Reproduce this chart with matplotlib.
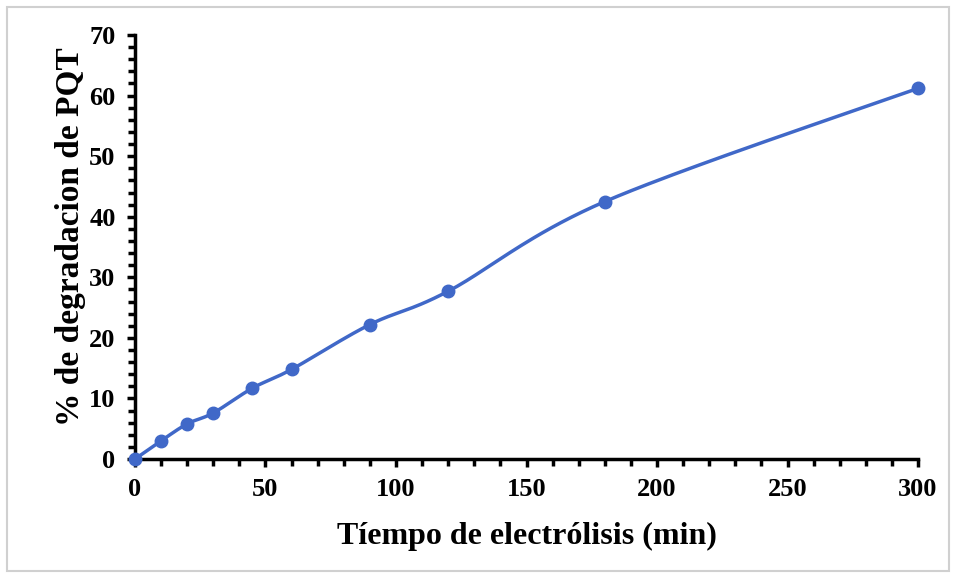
import numpy as np
import matplotlib
matplotlib.use("Agg")
import matplotlib.pyplot as plt
from matplotlib.ticker import MultipleLocator
from matplotlib.patches import Rectangle

# Data
tiempo = [0, 10, 20, 30, 45, 60, 90, 120, 180, 300]
degradacion = [0.0, 3.0, 5.8, 7.6, 11.7, 14.8, 22.2, 27.7, 42.5, 61.2]
x_label = "Tíempo de electrólisis (min)"
y_label = "% de degradacion de PQT"

plt.rcParams['font.family'] = ['Liberation Serif', 'DejaVu Serif']
plt.rcParams['font.weight'] = 'bold'

fig = plt.figure(figsize=(9.56, 5.77), dpi=100)
ax = fig.add_axes([0.1412, 0.2045, 0.8191, 0.7348])
fig.patches.append(Rectangle((0.007, 0.01), 0.986, 0.978, transform=fig.transFigure,
                             fill=False, edgecolor='#d0d0d0', linewidth=1.5))

xlim = (0, 300)
ylim = (0, 70)
ax.set_xlim(*xlim)
ax.set_ylim(*ylim)


def excel_smooth(xs, ys, n=40):
    # Bezier smoothing (Catmull-Rom style) done in normalized axis space
    px = (np.asarray(xs, float) - xlim[0]) / (xlim[1] - xlim[0]) * 0.8191 * 9.56
    py = (np.asarray(ys, float) - ylim[0]) / (ylim[1] - ylim[0]) * 0.7348 * 5.77
    P = np.column_stack([px, py])
    out = [P[0]]
    for i in range(len(P) - 1):
        p0 = P[i - 1] if i > 0 else P[i]
        p1 = P[i]
        p2 = P[i + 1]
        p3 = P[i + 2] if i + 2 < len(P) else P[i + 1]
        c1 = p1 + (p2 - p0) / 6.0
        c2 = p2 - (p3 - p1) / 6.0
        t = np.linspace(0, 1, n)[1:, None]
        seg = ((1 - t) ** 3) * p1 + 3 * ((1 - t) ** 2) * t * c1 + 3 * (1 - t) * t ** 2 * c2 + t ** 3 * p2
        out.extend(seg)
    out = np.array(out)
    sx = out[:, 0] / (0.8191 * 9.56) * (xlim[1] - xlim[0]) + xlim[0]
    sy = out[:, 1] / (0.7348 * 5.77) * (ylim[1] - ylim[0]) + ylim[0]
    return sx, sy


color = '#4068c8'
sx, sy = excel_smooth(tiempo, degradacion)
ax.plot(sx, sy, color=color, linewidth=2.5, clip_on=False, zorder=3)
ax.plot(tiempo, degradacion, 'o', color=color, markersize=9, clip_on=False, zorder=4)

for s in ['top', 'right']:
    ax.spines[s].set_visible(False)
for s in ['left', 'bottom']:
    ax.spines[s].set_linewidth(2.5)
    ax.spines[s].set_color('black')

ax.xaxis.set_major_locator(MultipleLocator(50))
ax.xaxis.set_minor_locator(MultipleLocator(10))
ax.yaxis.set_major_locator(MultipleLocator(10))
ax.yaxis.set_minor_locator(MultipleLocator(2))
ax.tick_params(which='major', direction='out', length=6, width=2.5, labelsize=19, pad=8)
ax.tick_params(which='minor', direction='out', length=5, width=2.5)
for lab in ax.get_xticklabels() + ax.get_yticklabels():
    lab.set_fontweight('bold')

ax.set_xlabel(x_label, fontsize=23, fontweight='bold', labelpad=15)
ax.set_ylabel(y_label, fontsize=24, fontweight='bold', labelpad=6)
ax.yaxis.set_label_coords(-0.062, 0.525)

fig.savefig('out.png', dpi=100)
